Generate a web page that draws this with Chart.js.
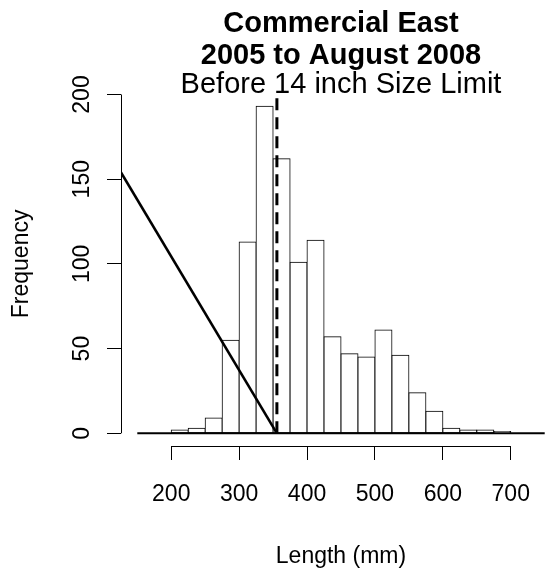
<!DOCTYPE html>
<html>
<head>
<meta charset="utf-8">
<script src="https://cdn.jsdelivr.net/npm/chart.js@4.4.1/dist/chart.umd.min.js"></script>
<style>
  html, body { margin: 0; padding: 0; overflow: hidden; background: #fff; }
  canvas { display: block; }
</style>
</head>
<body>
<canvas id="histChart" width="561" height="575"></canvas>
<script>
// 25 mm length classes (lower edge) and fish counts
var binStarts = [200, 225, 250, 275, 300, 325, 350, 375, 400, 425, 450, 475, 500, 525, 550, 575, 600, 625, 650, 675];
var binCounts = [2, 3, 9, 55, 113, 193, 162, 101, 114, 57, 47, 45, 61, 46, 24, 13, 3, 2, 2, 1];
var binWidth = 25;

var xTicks = [200, 300, 400, 500, 600, 700];
var yTicks = [0, 50, 100, 150, 200];

// 14 inch limit in mm, and the sloped reference line
var sizeLimit = 355.6;
var slopeX = [126, 355.6];
var slopeY = [154, 0];
var baseX = [150, 750];

var FONT = "'Liberation Sans', Arial, Helvetica, sans-serif";
Chart.defaults.font.family = FONT;
Chart.defaults.color = '#000';

var bars = binStarts.map(function (s, i) {
    return { x: s + binWidth / 2, y: binCounts[i] };
});

// R style axes: line only over the tick range
var axisLines = {
    id: 'axisLines',
    afterDraw: function (chart) {
        var ctx = chart.ctx;
        var xs = chart.scales.x, ys = chart.scales.y;
        var a = chart.chartArea;
        ctx.save();
        ctx.strokeStyle = '#000';
        ctx.lineWidth = 1;
        ctx.beginPath();
        var yb = Math.round(a.bottom) + 0.5;
        ctx.moveTo(xs.getPixelForValue(xTicks[0]), yb);
        ctx.lineTo(xs.getPixelForValue(xTicks[xTicks.length - 1]), yb);
        var xl = Math.round(a.left) + 0.5;
        ctx.moveTo(xl, ys.getPixelForValue(yTicks[0]));
        ctx.lineTo(xl, ys.getPixelForValue(yTicks[yTicks.length - 1]));
        ctx.stroke();
        ctx.restore();
    }
};

var tickFont = { family: FONT, size: 23 };

new Chart(document.getElementById('histChart'), {
    type: 'bar',
    data: {
        datasets: [
            {
                type: 'line',
                data: [{ x: baseX[0], y: 0 }, { x: baseX[1], y: 0 }],
                borderColor: '#000',
                borderWidth: 2,
                pointRadius: 0,
                order: 0
            },
            {
                type: 'line',
                data: [{ x: slopeX[0], y: slopeY[0] }, { x: slopeX[1], y: slopeY[1] }],
                borderColor: '#000',
                borderWidth: 2.6,
                pointRadius: 0,
                order: 0
            },
            {
                type: 'line',
                data: [{ x: sizeLimit, y: 0 }, { x: sizeLimit, y: 200 }],
                borderColor: '#000',
                borderWidth: 3,
                borderDash: [12, 7],
                pointRadius: 0,
                order: 0
            },
            {
                data: bars,
                backgroundColor: '#fff',
                borderColor: '#000',
                borderWidth: 1,
                borderSkipped: false,
                inflateAmount: 0.5,
                barPercentage: 1,
                categoryPercentage: 1,
                order: 1
            }
        ]
    },
    options: {
        responsive: false,
        animation: false,
        devicePixelRatio: 1,
        layout: { padding: 0, autoPadding: false },
        plugins: {
            legend: { display: false },
            tooltip: { enabled: false },
            title: {
                display: true,
                fullSize: false,
                text: ['Commercial East', '2005 to August 2008'],
                color: '#000',
                font: { family: FONT, size: 29, weight: 'bold', lineHeight: '31.7px' },
                padding: { top: 8.5, bottom: 0 }
            },
            subtitle: {
                display: true,
                fullSize: false,
                text: 'Before 14 inch Size Limit',
                color: '#000',
                font: { family: FONT, size: 29, weight: 'normal', lineHeight: '26.9px' },
                padding: { top: 0, bottom: -17 }
            }
        },
        scales: {
            x: {
                type: 'linear',
                min: 126,
                max: 774,
                offset: false,
                afterBuildTicks: function (s) {
                    s.ticks = xTicks.map(function (v) { return { value: v }; });
                },
                afterFit: function (s) { s.height = 129; },
                border: { display: false },
                grid: { display: true, offset: false, drawOnChartArea: false, drawTicks: true, tickLength: 14, color: '#000', lineWidth: 1 },
                ticks: { font: tickFont, color: '#000', padding: 21, maxRotation: 0, autoSkip: false },
                title: {
                    display: true,
                    text: 'Length (mm)',
                    color: '#000',
                    font: tickFont,
                    padding: { top: 0, bottom: 5 }
                }
            },
            y: {
                min: -7.5,
                max: 207.5,
                afterBuildTicks: function (s) {
                    s.ticks = yTicks.map(function (v) { return { value: v }; });
                },
                afterFit: function (s) { s.width = 121; },
                border: { display: false },
                grid: { display: true, drawOnChartArea: false, drawTicks: true, tickLength: 14, color: '#000', lineWidth: 1 },
                ticks: { font: tickFont, color: '#000', padding: 5, minRotation: 90, maxRotation: 90, crossAlign: 'center', autoSkip: false },
                title: {
                    display: true,
                    text: 'Frequency',
                    color: '#000',
                    font: tickFont,
                    padding: { top: 8, bottom: 0 }
                }
            }
        }
    },
    plugins: [axisLines]
});
</script>
</body>
</html>
